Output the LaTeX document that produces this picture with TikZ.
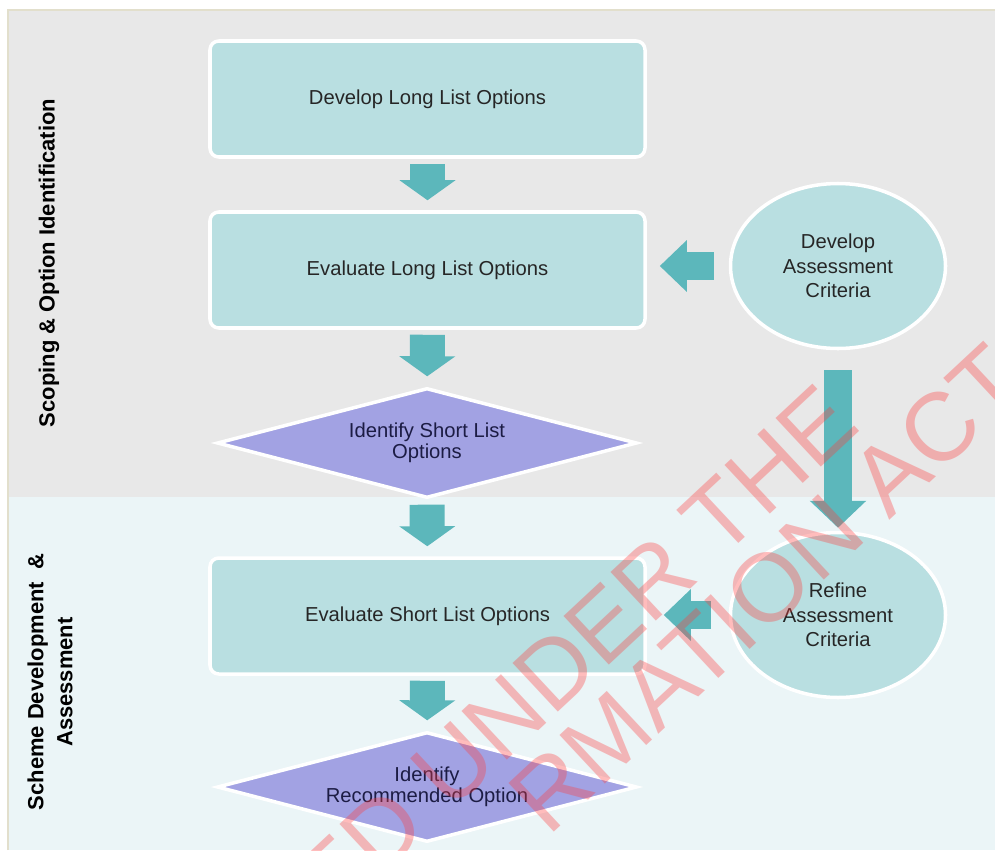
\documentclass[tikz,border=0pt]{standalone}
\usepackage{fontspec}
\setmainfont{Liberation Sans}
\usepackage{tikz}
\usetikzlibrary{shapes,arrows.meta}

\definecolor{boxfill}{HTML}{B9DFE1}
\definecolor{arrowfill}{HTML}{5CB7BB}
\definecolor{diafill}{HTML}{A2A2E3}
\definecolor{diatext}{HTML}{1C1C44}
\definecolor{topband}{HTML}{E8E8E8}
\definecolor{lowband}{HTML}{EBF5F7}
\definecolor{edge}{HTML}{E2DFCC}
\definecolor{stamp}{HTML}{FF3C3C}

\begin{document}
\begin{tikzpicture}[
    stepbox/.style={draw=white, line width=2pt, fill=boxfill, rounded corners=5pt,
      minimum width=8.7cm, minimum height=2.32cm, text=black!85,
      font=\fontsize{11.5}{14}\selectfont},
    choice/.style={diamond, aspect=3.8, draw=white, line width=2pt, fill=diafill, inner sep=0pt,
      minimum width=8.4cm, minimum height=2.2cm, align=center, text=diatext,
      font=\fontsize{11.5}{12}\selectfont},
    criteria/.style={ellipse, draw=white, line width=2pt, fill=boxfill,
      minimum width=4.3cm, minimum height=3.3cm, align=center, text=black!85,
      font=\fontsize{11.5}{14}\selectfont},
    flow/.style={draw=arrowfill, line width=0.7cm, shorten <=0.1cm, shorten >=0.2cm,
      -{Triangle[width=1.1cm,length=0.4cm]}},
    sideflow/.style={draw=arrowfill, line width=0.56cm,
      -{Triangle[width=1.0cm,length=0.54cm]}},
    side/.style={rotate=90, align=center, font=\fontsize{12.5}{16.5}\selectfont\bfseries},
    stampword/.style={rotate=43, anchor=base east, text=stamp, opacity=0.34,
      font=\fontsize{55}{55}\selectfont}
  ]
  \useasboundingbox (0,0) rectangle (19.9,-17);

  % background bands
  \fill[topband] (0.16,-0.2) rectangle (19.9,-9.94);
  \fill[lowband] (0.16,-9.94) rectangle (19.9,-17);
  \draw[edge, line width=0.6pt] (0.16,-17) -- (0.16,-0.2) -- (19.9,-0.2);

  % stage labels
  \node[side] (scoping) at (0.98,-5.26) {Scoping \& Option Identification};
  \node[side] (scheme) at (1.0,-13.64) {Scheme Development \ \&\\Assessment};

  % main column
  \node[stepbox] (devlong) at (8.55,-1.98) {Develop Long List Options};
  \node[stepbox] (evallong) at (8.55,-5.4) {Evaluate Long List Options};
  \node[choice] (shortlist) at (8.54,-8.86) {Identify Short List\\Options};
  \node[stepbox] (evalshort) at (8.55,-12.32) {Evaluate Short List Options};
  \node[choice] (recommend) at (8.54,-15.74) {Identify\\Recommended Option};

  % criteria
  \node[criteria] (devcrit) at (16.76,-5.32) {Develop\\Assessment\\Criteria};
  \node[criteria] (refcrit) at (16.76,-12.3) {Refine\\Assessment\\Criteria};

  % arrows
  \draw[flow] (devlong) -- (evallong);
  \draw[flow] (evallong) -- (shortlist);
  \draw[flow] (shortlist) -- (evalshort);
  \draw[flow] (evalshort) -- (recommend);
  \draw[sideflow, shorten <=0.3cm, shorten >=0.26cm] (devcrit.west) -- (devcrit.west -| evallong.east);
  \draw[sideflow, shorten <=0.36cm, shorten >=0.34cm] (refcrit.west) -- (refcrit.west -| evalshort.east);
  \draw[sideflow, -{Triangle[width=1.1cm,length=0.54cm]}, shorten <=0.4cm, shorten >=0.06cm] (devcrit) -- (refcrit);

  % stamp
  \begin{scope}
    \clip (0,0) rectangle (19.9,-17);
    \node[stampword] (stampa) at (17.34,-8.48) {ED UNDER THE};
    \node[stampword] (stampb) at (20.7,-7.68) {RMATION ACT};
  \end{scope}
\end{tikzpicture}
\end{document}
